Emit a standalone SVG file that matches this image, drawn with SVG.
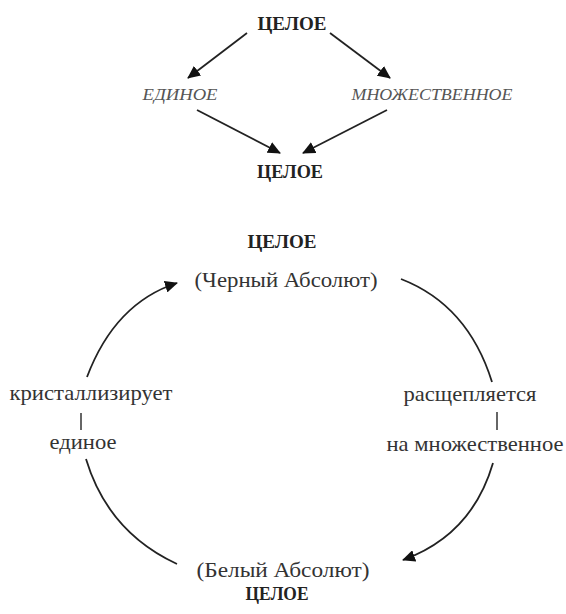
<svg xmlns="http://www.w3.org/2000/svg" width="566" height="614" viewBox="0 0 566 614">
<defs>
<marker id="ah" markerWidth="14" markerHeight="12" refX="12" refY="6" orient="auto" markerUnits="userSpaceOnUse">
<path d="M0,0 L13,6 L0,12 Z" fill="#111"/>
</marker>
</defs>
<style>
.b{font-weight:bold;font-size:19px;fill:#222}
.i{font-style:italic;font-size:17px;fill:#555}
.r{font-size:21px;fill:#333}
.ln{stroke:#222;stroke-width:1.8;fill:none}
.tk{stroke:#333;stroke-width:1.5}
</style>
<rect width="566" height="614" fill="#fff"/>
<g font-family="'Liberation Serif', 'Times New Roman', Times, serif" text-anchor="middle">
<g id="top-whole"><text class="b" x="292" y="30" textLength="69" lengthAdjust="spacingAndGlyphs">ЦЕЛОЕ</text></g>
<g id="one"><text class="i" x="180" y="100" textLength="75" lengthAdjust="spacingAndGlyphs">ЕДИНОЕ</text></g>
<g id="many"><text class="i" x="432" y="100" textLength="161" lengthAdjust="spacingAndGlyphs">МНОЖЕСТВЕННОЕ</text></g>
<g id="bottom-whole"><text class="b" x="290" y="178" textLength="66" lengthAdjust="spacingAndGlyphs">ЦЕЛОЕ</text></g>
<g id="black-absolute"><text class="b" x="282" y="248" textLength="69" lengthAdjust="spacingAndGlyphs">ЦЕЛОЕ</text><text class="r" x="286" y="287" textLength="183" lengthAdjust="spacingAndGlyphs">(Черный Абсолют)</text></g>
<g id="white-absolute"><text class="r" x="283" y="577" textLength="173" lengthAdjust="spacingAndGlyphs">(Белый Абсолют)</text><text class="b" x="277" y="600" textLength="63" lengthAdjust="spacingAndGlyphs">ЦЕЛОЕ</text></g>
<g id="crystallizes"><text class="r" x="91" y="400" textLength="163" lengthAdjust="spacingAndGlyphs">кристаллизирует</text><line class="tk" x1="81" y1="413" x2="81" y2="430"/><text class="r" x="83" y="449" textLength="67" lengthAdjust="spacingAndGlyphs">единое</text></g>
<g id="splits"><text class="r" x="470" y="401" textLength="133" lengthAdjust="spacingAndGlyphs">расщепляется</text><line class="tk" x1="497" y1="412" x2="497" y2="430"/><text class="r" x="475" y="451" textLength="177" lengthAdjust="spacingAndGlyphs">на множественное</text></g>
</g>
<g id="connectors">
<line class="ln" x1="247" y1="33" x2="188" y2="78" marker-end="url(#ah)"/>
<line class="ln" x1="330" y1="33" x2="390" y2="78" marker-end="url(#ah)"/>
<line class="ln" x1="197" y1="110" x2="280" y2="153" marker-end="url(#ah)"/>
<line class="ln" x1="387" y1="110" x2="303" y2="153" marker-end="url(#ah)"/>
<path class="ln" d="M87,377 Q115,303 177,283" marker-end="url(#ah)"/>
<path class="ln" d="M401,279 Q468,305 492,382"/>
<path class="ln" d="M86,459 Q108,532 177,564"/>
<path class="ln" d="M493,463 Q472,535 403,560" marker-end="url(#ah)"/>
</g>
</svg>
